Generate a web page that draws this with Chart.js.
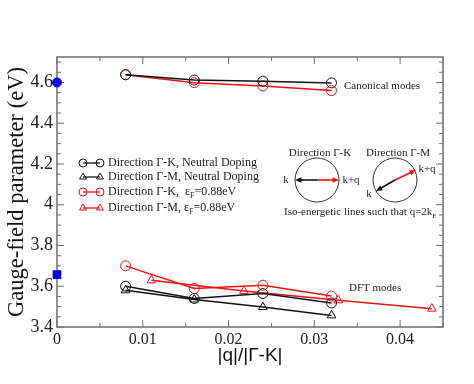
<!DOCTYPE html>
<html>
<head>
<meta charset="utf-8">
<script src="https://cdn.jsdelivr.net/npm/chart.js@4.4.0/dist/chart.umd.min.js"></script>
<style>
  html, body { margin: 0; padding: 0; background: #fff; }
  #wrap { width: 474px; height: 384px; }
</style>
</head>
<body>
<div id="wrap"><canvas id="gaugeChart" width="474" height="384"></canvas></div>
<script>
// q / |Gamma-K| positions
const qMain = [0.008, 0.016, 0.024, 0.032];
const qMShift = [0.011, 0.0218, 0.0328, 0.0437];

// canonical modes (eV)
const canonKNeutral = [4.638, 4.612, 4.606, 4.598];
const canonKDoped = [4.638, 4.599, 4.583, 4.560];

// DFT modes (eV)
const dftKNeutral = [3.600, 3.540, 3.564, 3.518];
const dftMNeutral = [3.580, 3.535, 3.498, 3.457];
const dftKDoped = [3.700, 3.589, 3.605, 3.552];
const dftMDoped = [3.629, 3.577, 3.531, 3.490];

// blue reference values at q = 0
const refCanonical = [4.60];
const refDft = [3.657];

const xTicks = [0, 0.01, 0.02, 0.03, 0.04];
const yTicks = [3.4, 3.6, 3.8, 4.0, 4.2, 4.4, 4.6];

const RED = '#f01010';
const BLACK = '#111111';
const SERIF = '"Liberation Serif", "Times New Roman", serif';

function pts(xs, ys) {
    return xs.map((x, i) => ({ x: x, y: ys[i] }));
}

function series(label, xs, ys, color, style) {
    return {
        label: label,
        data: pts(xs, ys),
        showLine: true,
        borderColor: color,
        backgroundColor: color,
        borderWidth: 1.5,
        pointStyle: style,
        pointRadius: 5,
        pointBorderWidth: 1,
        pointBackgroundColor: 'rgba(0,0,0,0)',
        pointBorderColor: color
    };
}

const legendItems = [
    { text: ['Direction Γ-K, Neutral Doping'], color: BLACK, style: 'circle' },
    { text: ['Direction Γ-M, Neutral Doping'], color: BLACK, style: 'triangle' },
    { text: ['Direction Γ-K,  ε', 'F', '=0.88eV'], color: RED, style: 'circle' },
    { text: ['Direction Γ-M, ε', 'F', '=0.88eV'], color: RED, style: 'triangle' }
];

// text with a subscript part: [main, sub, rest]
function drawSubText(ctx, parts, x, y, size) {
    ctx.font = size + 'px ' + SERIF;
    ctx.textAlign = 'left';
    ctx.textBaseline = 'middle';
    ctx.fillText(parts[0], x, y);
    let cx = x + ctx.measureText(parts[0]).width;
    if (parts.length > 1) {
        ctx.font = Math.round(size * 0.65) + 'px ' + SERIF;
        ctx.fillText(parts[1], cx, y + size * 0.35);
        cx += ctx.measureText(parts[1]).width;
        ctx.font = size + 'px ' + SERIF;
        ctx.fillText(parts[2], cx, y);
    }
}

function arrow(ctx, x1, y1, x2, y2, color) {
    const a = Math.atan2(y2 - y1, x2 - x1);
    ctx.strokeStyle = color;
    ctx.fillStyle = color;
    ctx.lineWidth = 1.6;
    ctx.beginPath();
    ctx.moveTo(x1, y1);
    ctx.lineTo(x2 - 4 * Math.cos(a), y2 - 4 * Math.sin(a));
    ctx.stroke();
    ctx.beginPath();
    ctx.moveTo(x2, y2);
    ctx.lineTo(x2 - 7 * Math.cos(a - 0.4), y2 - 7 * Math.sin(a - 0.4));
    ctx.lineTo(x2 - 7 * Math.cos(a + 0.4), y2 - 7 * Math.sin(a + 0.4));
    ctx.closePath();
    ctx.fill();
}

const framePlugin = {
    id: 'frame',
    beforeDatasetsDraw(chart) {
        const ctx = chart.ctx;
        const area = chart.chartArea;
        const xs = chart.scales.x;
        const ys = chart.scales.y;
        ctx.save();
        ctx.strokeStyle = '#6e6e6e';
        ctx.lineWidth = 1.5;
        ctx.strokeRect(area.left, area.top, area.right - area.left, area.bottom - area.top);

        ctx.lineWidth = 1;
        ctx.beginPath();
        // x ticks, minor every 0.005
        for (let i = 0; i * 0.005 <= xs.max + 1e-9; i++) {
            const px = xs.getPixelForValue(i * 0.005);
            const len = i % 2 === 0 ? 7 : 4;
            ctx.moveTo(px, area.bottom); ctx.lineTo(px, area.bottom - len);
            ctx.moveTo(px, area.top); ctx.lineTo(px, area.top + len);
        }
        // y ticks, minor every 0.05
        for (let i = 0; 3.4 + i * 0.05 <= ys.max + 1e-9; i++) {
            const py = ys.getPixelForValue(3.4 + i * 0.05);
            const len = i % 4 === 0 ? 7 : 4;
            ctx.moveTo(area.left, py); ctx.lineTo(area.left + len, py);
            ctx.moveTo(area.right, py); ctx.lineTo(area.right - len, py);
        }
        ctx.stroke();
        ctx.restore();
    },
    afterDraw(chart) {
        const ctx = chart.ctx;
        ctx.save();

        // legend
        const rows = [163, 177, 192, 208];
        legendItems.forEach((item, i) => {
            const y = rows[i];
            ctx.strokeStyle = item.color;
            ctx.fillStyle = 'rgba(0,0,0,0)';
            ctx.lineWidth = 1.3;
            ctx.beginPath();
            ctx.moveTo(83, y); ctx.lineTo(100, y);
            ctx.stroke();
            ctx.lineWidth = 1;
            Chart.helpers.drawPoint(ctx, { pointStyle: item.style, radius: 4, borderWidth: 1 }, 83, y);
            Chart.helpers.drawPoint(ctx, { pointStyle: item.style, radius: 4, borderWidth: 1 }, 100, y);
            ctx.fillStyle = '#222';
            drawSubText(ctx, item.text, 108, y, 12);
        });

        // mode labels
        ctx.fillStyle = '#222';
        ctx.font = '11px ' + SERIF;
        ctx.textAlign = 'left';
        ctx.textBaseline = 'middle';
        ctx.fillText('Canonical modes', 344, 86);
        ctx.fillText('DFT modes', 349, 288);

        // iso-energetic circles
        ctx.font = '11px ' + SERIF;
        ctx.textAlign = 'center';
        ctx.fillText('Direction Γ-K', 320, 153);
        ctx.fillText('Direction Γ-M', 398, 153);
        ctx.strokeStyle = '#333';
        ctx.lineWidth = 1;
        ctx.beginPath();
        ctx.arc(317, 180, 22, 0, Math.PI * 2);
        ctx.stroke();
        ctx.beginPath();
        ctx.arc(395, 180, 22, 0, Math.PI * 2);
        ctx.stroke();
        arrow(ctx, 317, 180, 295, 180, BLACK);
        arrow(ctx, 317, 180, 339, 180, RED);
        arrow(ctx, 395, 180, 416, 170, RED);
        arrow(ctx, 395, 180, 376, 191, BLACK);
        ctx.fillStyle = '#222';
        ctx.font = '11px ' + SERIF;
        ctx.textAlign = 'center';
        ctx.fillText('k', 286, 180);
        ctx.fillText('k+q', 351, 180);
        ctx.fillText('k+q', 427, 169);
        ctx.fillText('k', 369, 194);
        ctx.textAlign = 'left';
        drawSubText(ctx, ['Iso-energetic lines such that q=2k', 'F', ''], 284, 212, 11);

        ctx.restore();
    }
};

const ctx = document.getElementById('gaugeChart').getContext('2d');
new Chart(ctx, {
    type: 'scatter',
    data: {
        datasets: [
            series('Direction Γ-K, Neutral Doping', qMain, canonKNeutral, BLACK, 'circle'),
            series('Direction Γ-K, εF=0.88eV', qMain, canonKDoped, RED, 'circle'),
            series('Direction Γ-K, Neutral Doping (DFT)', qMain, dftKNeutral, BLACK, 'circle'),
            series('Direction Γ-M, Neutral Doping', qMain, dftMNeutral, BLACK, 'triangle'),
            series('Direction Γ-K, εF=0.88eV (DFT)', qMain, dftKDoped, RED, 'circle'),
            series('Direction Γ-M, εF=0.88eV', qMShift, dftMDoped, RED, 'triangle'),
            {
                label: 'canonical q=0',
                data: pts([0], refCanonical),
                pointStyle: 'circle',
                pointRadius: 4.5,
                backgroundColor: '#0000ee',
                borderColor: '#0000ee',
                clip: false
            },
            {
                label: 'DFT q=0',
                data: pts([0], refDft),
                pointStyle: 'rect',
                pointRadius: 5.5,
                backgroundColor: '#0000ee',
                borderColor: '#0000ee',
                clip: false
            }
        ]
    },
    options: {
        responsive: false,
        animation: false,
        layout: {
            padding: { top: 57, right: 31, left: 0, bottom: 0 }
        },
        plugins: {
            legend: { display: false },
            tooltip: { enabled: false }
        },
        scales: {
            x: {
                type: 'linear',
                min: 0,
                max: 0.045,
                afterFit: (scale) => { scale.height = 57; },
                afterBuildTicks: (scale) => { scale.ticks = xTicks.map(v => ({ value: v })); },
                grid: { display: false, drawTicks: false },
                border: { display: false },
                ticks: {
                    padding: 3,
                    color: '#222',
                    font: { family: SERIF, size: 16 },
                    callback: (v) => String(+v.toFixed(3))
                },
                title: {
                    display: true,
                    text: '|q|/|Γ-K|',
                    color: '#111',
                    font: { family: '"Liberation Sans", Arial, sans-serif', size: 19 },
                    padding: { top: 0, bottom: 17 }
                }
            },
            y: {
                type: 'linear',
                min: 3.4,
                max: 4.725,
                afterFit: (scale) => { scale.width = 57; },
                afterBuildTicks: (scale) => { scale.ticks = yTicks.map(v => ({ value: v })); },
                grid: { display: false, drawTicks: false },
                border: { display: false },
                ticks: {
                    padding: 4,
                    color: '#222',
                    font: { family: SERIF, size: 18 },
                    callback: (v) => String(+v.toFixed(2))
                },
                title: {
                    display: true,
                    text: 'Gauge-field parameter (eV)',
                    color: '#111',
                    font: { family: SERIF, size: 22.5 },
                    padding: { top: 4, bottom: 0 }
                }
            }
        }
    },
    plugins: [framePlugin]
});
</script>
</body>
</html>
